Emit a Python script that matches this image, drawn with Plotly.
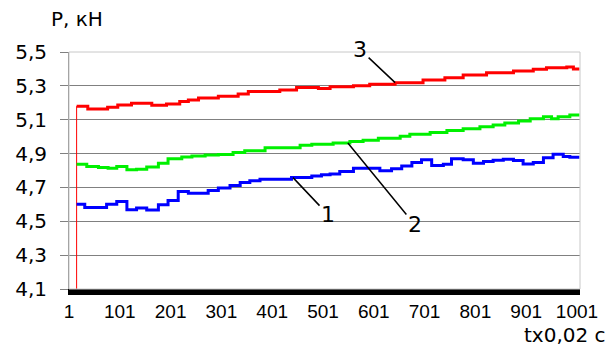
import plotly.graph_objects as go
import numpy as np

# ---- data (time index t, step levels in kN) ----
red_x = [16, 16, 38, 77, 97, 124, 164, 193, 219, 236, 256, 295, 334, 354, 416, 449, 492,
         515, 561, 593, 643, 698, 741, 777, 823, 876, 915, 941, 981, 994, 1006]
red_y = [0.0, 5.18, 5.164, 5.174, 5.187, 5.197, 5.185, 5.193, 5.207, 5.217, 5.229, 5.239, 5.252,
         5.266, 5.276, 5.29, 5.284, 5.295, 5.301, 5.309, 5.319, 5.335, 5.348, 5.364, 5.378,
         5.388, 5.398, 5.407, 5.412, 5.40, 5.40]

green_x = [16, 36, 59, 78, 95, 115, 134, 154, 177, 196, 223, 243, 269, 295, 324, 347, 387,
           456, 479, 521, 554, 580, 610, 653, 672, 712, 745, 777, 810, 836, 859, 886, 909,
           935, 951, 964, 987, 1006]
green_y = [4.837, 4.823, 4.817, 4.814, 4.823, 4.804, 4.808, 4.82, 4.843, 4.87, 4.88, 4.886,
           4.892, 4.894, 4.906, 4.916, 4.935, 4.949, 4.955, 4.963, 4.971, 4.979, 4.991, 5.003,
           5.014, 5.024, 5.036, 5.046, 5.059, 5.069, 5.081, 5.093, 5.105, 5.117, 5.105, 5.117,
           5.128, 5.128]

blue_x = [16, 32, 75, 95, 115, 134, 154, 177, 196, 216, 236, 275, 295, 318, 338, 357, 377,
          439, 479, 498, 515, 534, 561, 613, 636, 656, 676, 695, 715, 738, 754, 777, 797,
          817, 836, 856, 876, 895, 915, 935, 954, 974, 987, 1006]
blue_y = [4.601, 4.582, 4.601, 4.617, 4.568, 4.578, 4.566, 4.597, 4.623, 4.676, 4.666, 4.682,
          4.696, 4.711, 4.729, 4.739, 4.749, 4.758, 4.768, 4.775, 4.78, 4.794, 4.814, 4.798,
          4.81, 4.827, 4.847, 4.863, 4.829, 4.837, 4.869, 4.863, 4.843, 4.853, 4.861, 4.867,
          4.859, 4.839, 4.847, 4.876, 4.896, 4.882, 4.879, 4.879]

x_ticks = [1, 101, 201, 301, 401, 501, 601, 701, 801, 901, 1001]
y_ticks = [4.1, 4.3, 4.5, 4.7, 4.9, 5.1, 5.3, 5.5]
y_ticktext = ["4,1", "4,3", "4,5", "4,7", "4,9", "5,1", "5,3", "5,5"]

# curve labels: (label, series, t where the leader touches the curve)
labels = [("1", "blue", 442), ("2", "green", 550), ("3", "red", 643)]
label_offsets = {"1": (35, 37), "2": (67, 82), "3": (-35, -33)}

FONT = "Liberation Sans, Arial, sans-serif"
WIDE = "DejaVu Sans, sans-serif"
series = {"red": (red_x[1:], red_y[1:], "#FF0000"),
          "green": (green_x, green_y, "#00F000"),
          "blue": (blue_x, blue_y, "#0000FF")}

fig = go.Figure()
# red initial drop (thin)
fig.add_trace(go.Scatter(x=red_x[:2], y=red_y[:2], mode="lines",
                         line=dict(color="#FF0000", width=1), hoverinfo="skip"))
for name in ["blue", "green", "red"]:
    xs, ys, col = series[name]
    fig.add_trace(go.Scatter(x=xs, y=ys, mode="lines", line_shape="hv",
                             line=dict(color=col, width=3), name=name))


def value_at(xs, ys, t):
    idx = int(np.searchsorted(xs, t, side="right")) - 1
    return ys[max(idx, 0)]


for text, sname, t in labels:
    xs, ys, _ = series[sname]
    ax, ay = label_offsets[text]
    fig.add_annotation(x=t, y=value_at(xs, ys, t), text=text, showarrow=True,
                       ax=ax, ay=ay, arrowhead=0, arrowwidth=1.5, arrowcolor="black",
                       standoff=0, font=dict(family=WIDE, size=22, color="black"))

fig.add_annotation(text="P, кН", xref="paper", yref="paper", x=-0.04, y=1.0,
                   xanchor="left", yanchor="bottom", yshift=19, showarrow=False,
                   font=dict(family=WIDE, size=20, color="black"))
fig.add_annotation(text="tx0,02 с", xref="paper", yref="paper", x=1.0, y=0,
                   xanchor="right", yanchor="top", xshift=28, yshift=-32, showarrow=False,
                   font=dict(family=WIDE, size=20, color="black"))

# light plot-area border
fig.add_shape(type="rect", xref="paper", yref="paper", x0=0, y0=0, x1=1, y1=1,
              line=dict(color="#C8C8C8", width=1), layer="above")

fig.update_layout(
    width=612, height=351, showlegend=False,
    margin=dict(l=69, r=32, t=52, b=62),
    paper_bgcolor="white", plot_bgcolor="white",
    font=dict(family=FONT, size=19, color="black"),
    xaxis=dict(range=[1, 1007], tickvals=x_ticks, ticktext=[str(v) for v in x_ticks],
               showgrid=False, zeroline=False, showline=True, linecolor="black",
               linewidth=6, ticks="", tickfont=dict(family=FONT, size=19)),
    yaxis=dict(range=[4.1, 5.5], tickvals=y_ticks, ticktext=y_ticktext,
               showgrid=True, gridcolor="#808080", gridwidth=1, zeroline=False,
               showline=True, linecolor="#808080", linewidth=1,
               ticks="outside", ticklen=8, tickcolor="#808080",
               ticklabelstandoff=9, tickfont=dict(family=WIDE, size=20)),
)

fig.write_html("out.html", config={"displayModeBar": False, "staticPlot": True},
               post_script="document.body.style.margin='0';")
